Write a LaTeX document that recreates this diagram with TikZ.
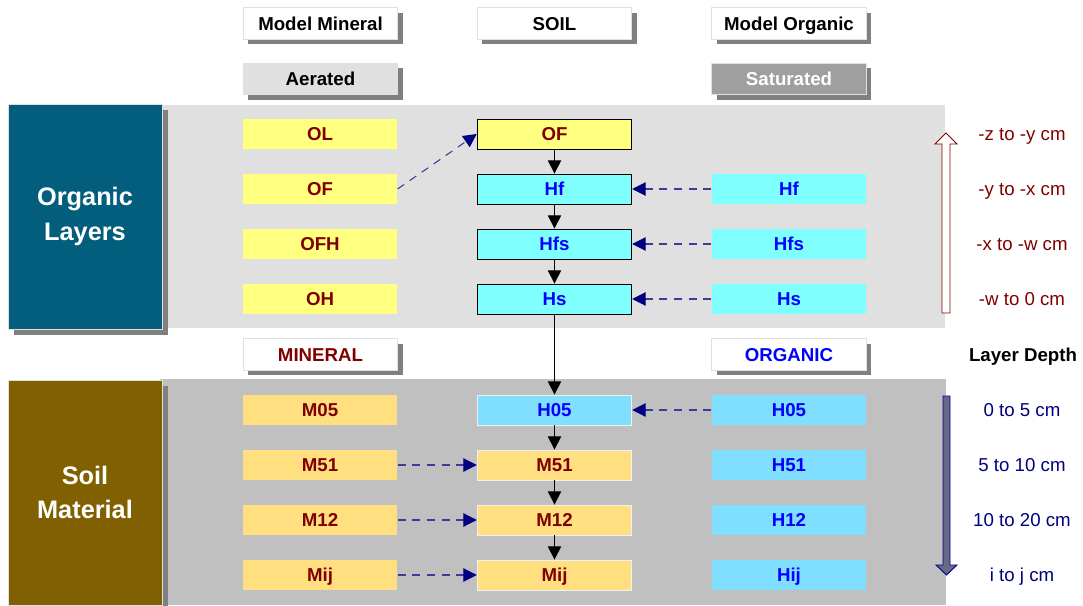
\documentclass[tikz,border=0pt]{standalone}
\usepackage{fontspec}
\setmainfont{Liberation Sans}
\usetikzlibrary{arrows.meta, shadows}
\definecolor{ylw}{HTML}{FFFF80}
\definecolor{cyn}{HTML}{80FFFF}
\definecolor{org}{HTML}{FFDF80}
\definecolor{sky}{HTML}{80DFFF}
\definecolor{dred}{HTML}{800000}
\definecolor{navyb}{HTML}{000080}
\definecolor{dashb}{RGB}{60,60,150}
\definecolor{teal_b}{RGB}{2,94,124}
\definecolor{brown_b}{RGB}{128,96,0}
\definecolor{band_o}{HTML}{E0E0E0}
\definecolor{band_s}{HTML}{C0C0C0}
\tikzset{
  cellnode/.style = {inner sep=0pt, minimum width=116pt, minimum height=22.5pt, text height=10pt, text depth=0pt,
    font=\bfseries\fontsize{14}{16}\selectfont},
  shd/.style = {drop shadow={shadow xshift=3.75pt, shadow yshift=-3.75pt, fill=gray, opacity=1}},
  head_w/.style = {cellnode, minimum height=23.5pt, shd, fill=white, draw=band_o, line width=0.6pt},
  head_g/.style = {head_w, fill=band_o},
  head_d/.style = {head_w, fill=gray!75, text=white},
  cell_y/.style = {cellnode, fill=ylw, text=dred},
  cell_c/.style = {cellnode, fill=cyn, text=blue},
  cell_o/.style = {cellnode, fill=org, text=dred},
  cell_b/.style = {cellnode, fill=sky, text=blue},
  mid_k/.style = {draw=black, line width=0.6pt},
  mid_w/.style = {draw=white!94!black, line width=0.6pt},
  bigbox/.style = {drop shadow={shadow xshift=4.5pt, shadow yshift=-4.5pt, fill=gray, opacity=1}, inner sep=0pt,
    minimum width=115.5pt, minimum height=168.75pt, draw=band_o, line width=0.6pt,
    text=white, align=center, font=\bfseries\fontsize{19}{26}\selectfont},
  depth/.style = {text height=10pt, text depth=0pt, font=\fontsize{14}{16}\selectfont},
  flow/.style = {-{Triangle[length=10pt, width=10pt]}, line width=0.9pt, black},
  link/.style = {-{Triangle[length=10pt, width=10pt, fill=navyb, color=navyb]}, line width=0.8pt, dashb,
    dash pattern=on 6pt off 5pt},
}
\begin{document}
\begin{tikzpicture}[x=0.75pt, y=-0.75pt]
  \useasboundingbox (0,0) rectangle (1083,606);
  % background bands
  \fill[band_o] (160,105) rectangle (945,328);
  \fill[band_s] (160,379) rectangle (946,605);

  % left labels
  \node [bigbox, fill=teal_b] (orgL) at (85,216.5) {Organic\\Layers};
  \node [bigbox, fill=brown_b] (soilM) at (85,492.5) {Soil\\Material};

  % column headers
  \node [head_w] (hMin) at (320.5,23.5) {Model Mineral};
  \node [head_w] (hSoil) at (554.5,23.5) {SOIL};
  \node [head_w] (hOrg) at (789,23.5) {Model Organic};
  \node [head_g] (hAer) at (320.5,79) {Aerated};
  \node [head_d] (hSat) at (789,79) {Saturated};
  \node [head_w, text=dred] (hMinl) at (320.5,354.5) {MINERAL};
  \node [head_w, text=blue] (hOrgl) at (789,354.5) {ORGANIC};

  % organic layers
  \node [cell_y] (lOL) at (320,134) {OL};
  \node [cell_y] (lOF) at (320,189) {OF};
  \node [cell_y] (lOFH) at (320,244) {OFH};
  \node [cell_y] (lOH) at (320,299) {OH};
  \node [cell_y, mid_k] (cOF) at (554.5,134) {OF};
  \node [cell_c, mid_k] (cHf) at (554.5,189) {Hf};
  \node [cell_c, mid_k] (cHfs) at (554.5,244) {Hfs};
  \node [cell_c, mid_k] (cHs) at (554.5,299) {Hs};
  \node [cell_c] (rHf) at (789,189) {Hf};
  \node [cell_c] (rHfs) at (789,244) {Hfs};
  \node [cell_c] (rHs) at (789,299) {Hs};

  % soil material
  \node [cell_o] (lM05) at (320,410) {M05};
  \node [cell_o] (lM51) at (320,465) {M51};
  \node [cell_o] (lM12) at (320,520) {M12};
  \node [cell_o] (lMij) at (320,575) {Mij};
  \node [cell_b, mid_w] (cH05) at (554.5,410) {H05};
  \node [cell_o, mid_w] (cM51) at (554.5,465) {M51};
  \node [cell_o, mid_w] (cM12) at (554.5,520) {M12};
  \node [cell_o, mid_w] (cMij) at (554.5,575) {Mij};
  \node [cell_b] (rH05) at (789,410) {H05};
  \node [cell_b] (rH51) at (789,465) {H51};
  \node [cell_b] (rH12) at (789,520) {H12};
  \node [cell_b] (rHij) at (789,575) {Hij};

  % flow down the soil column
  \draw [flow] (cOF) -- (cHf);
  \draw [flow] (cHf) -- (cHfs);
  \draw [flow] (cHfs) -- (cHs);
  \draw [flow] (cHs) -- (cH05);
  \draw [flow] (cH05) -- (cM51);
  \draw [flow] (cM51) -- (cM12);
  \draw [flow] (cM12) -- (cMij);

  % model links
  \draw [link] (lOF.east) -- (cOF.west);
  \draw [link] (rHf) -- (cHf);
  \draw [link] (rHfs) -- (cHfs);
  \draw [link] (rHs) -- (cHs);
  \draw [link] (rH05) -- (cH05);
  \draw [link] (lM51) -- (cM51);
  \draw [link] (lM12) -- (cM12);
  \draw [link] (lMij) -- (cMij);

  % depth scale
  \draw [dred, fill=white, line width=0.7pt] (942,313) -- (942,144) -- (935,144) -- (946,133)
    -- (957,144) -- (950,144) -- (950,313) -- cycle;
  \draw [navyb, fill={rgb,255:red,104;green,104;blue,136}, line width=0.7pt] (943,396) -- (950,396) -- (950,565)
    -- (957,565) -- (946.5,575) -- (936,565) -- (943,565) -- cycle;
  \node [depth, text=dred] (d1) at (1022,134) {-z to -y cm};
  \node [depth, text=dred] (d2) at (1022,189) {-y to -x cm};
  \node [depth, text=dred] (d3) at (1022,244) {-x to -w cm};
  \node [depth, text=dred] (d4) at (1022,299) {-w to 0 cm};
  \node [depth, font=\bfseries\fontsize{14}{16}\selectfont] (dHead) at (1023,355) {Layer Depth};
  \node [depth, text=navyb] (d5) at (1022,410) {0 to 5 cm};
  \node [depth, text=navyb] (d6) at (1022,465) {5 to 10 cm};
  \node [depth, text=navyb] (d7) at (1022,520) {10 to 20 cm};
  \node [depth, text=navyb] (d8) at (1022,575) {i to j cm};
\end{tikzpicture}
\end{document}
